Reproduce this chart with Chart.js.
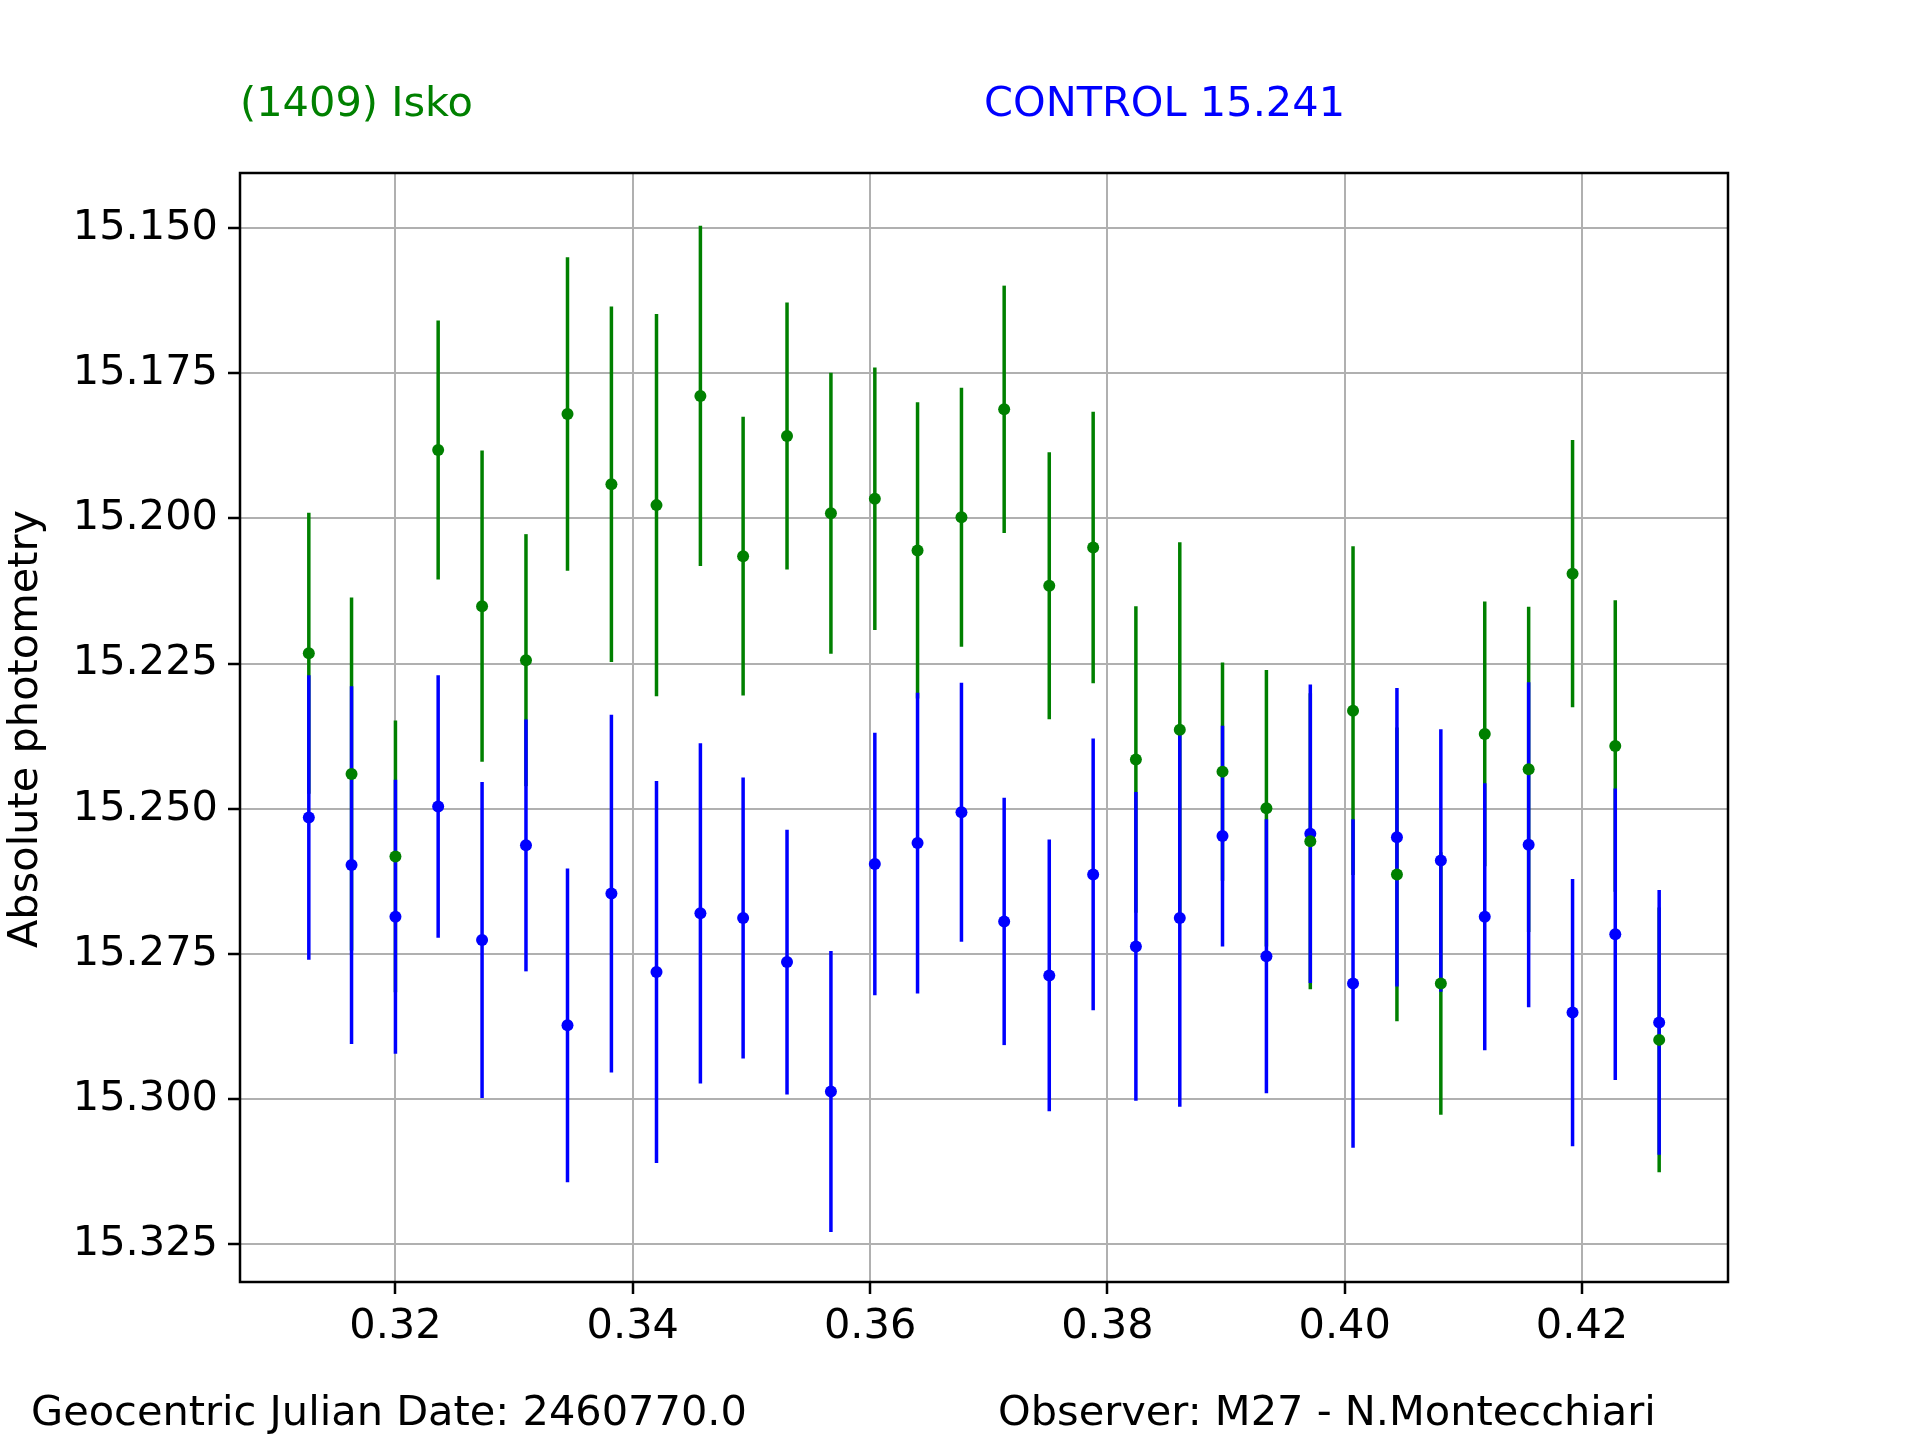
<!DOCTYPE html>
<html>
<head>
<meta charset="utf-8">
<script src="https://cdn.jsdelivr.net/npm/chart.js@4.4.1/dist/chart.umd.min.js"></script>
<style>
  body { margin: 0; background: #fff; }
  #wrap { width: 1920px; height: 1440px; }
</style>
</head>
<body>
<div id="wrap"><canvas id="c" width="1920" height="1440"></canvas></div>
<script>
// --- data ---
const jd = [0.3127, 0.3163, 0.3200, 0.3236, 0.3273, 0.3310, 0.3345, 0.3382, 0.3420, 0.3457,
            0.3493, 0.3530, 0.3567, 0.3604, 0.3640, 0.3677, 0.3713, 0.3751, 0.3788, 0.3824,
            0.3861, 0.3897, 0.3934, 0.3971, 0.4007, 0.4044, 0.4081, 0.4118, 0.4155, 0.4192,
            0.4228, 0.4265];
const iskoMag = [15.2232, 15.2440, 15.2582, 15.1882, 15.2151, 15.2244, 15.1820, 15.1941, 15.1977, 15.1789,
                 15.2065, 15.1858, 15.1991, 15.1966, 15.2055, 15.1998, 15.1812, 15.2116, 15.2050, 15.2415,
                 15.2364, 15.2436, 15.2499, 15.2556, 15.2331, 15.2613, 15.2801, 15.2371, 15.2432, 15.2095,
                 15.2392, 15.2898];
const iskoErr = [0.0242, 0.0304, 0.0234, 0.0223, 0.0268, 0.0217, 0.0270, 0.0306, 0.0329, 0.0293,
                 0.0240, 0.0230, 0.0242, 0.0226, 0.0255, 0.0223, 0.0213, 0.0230, 0.0234, 0.0264,
                 0.0323, 0.0188, 0.0238, 0.0255, 0.0283, 0.0253, 0.0226, 0.0228, 0.0280, 0.0230,
                 0.0251, 0.0228];
const ctrlMag = [15.2515, 15.2597, 15.2686, 15.2496, 15.2726, 15.2563, 15.2873, 15.2646, 15.2781, 15.2680,
                 15.2688, 15.2764, 15.2987, 15.2595, 15.2559, 15.2506, 15.2694, 15.2787, 15.2613, 15.2737,
                 15.2688, 15.2547, 15.2754, 15.2543, 15.2801, 15.2549, 15.2589, 15.2686, 15.2562, 15.2851,
                 15.2716, 15.2868];
const ctrlErr = [0.0245, 0.0308, 0.0236, 0.0226, 0.0272, 0.0217, 0.0270, 0.0308, 0.0329, 0.0293,
                 0.0242, 0.0228, 0.0242, 0.0226, 0.0259, 0.0223, 0.0213, 0.0234, 0.0234, 0.0266,
                 0.0325, 0.0190, 0.0236, 0.0257, 0.0283, 0.0257, 0.0226, 0.0230, 0.0280, 0.0230,
                 0.0251, 0.0228];
const xTicks = [0.32, 0.34, 0.36, 0.38, 0.40, 0.42];
const yTicks = [15.150, 15.175, 15.200, 15.225, 15.250, 15.275, 15.300, 15.325];

const GREEN = '#008000', BLUE = '#0000ff';
const FONT = '"DejaVu Sans", sans-serif';

const pts = (ys) => jd.map((x, i) => ({ x: x, y: ys[i] }));

// error bars drawn under the markers
const errorBars = {
  id: 'errorBars',
  beforeDatasetsDraw(chart) {
    const { ctx, scales: { x, y } } = chart;
    ctx.save();
    ctx.lineWidth = 3.5;
    [[iskoMag, iskoErr, GREEN], [ctrlMag, ctrlErr, BLUE]].forEach(([m, e, col]) => {
      ctx.strokeStyle = col;
      jd.forEach((jx, i) => {
        const px = x.getPixelForValue(jx);
        ctx.beginPath();
        ctx.moveTo(px, y.getPixelForValue(m[i] - e[i]));
        ctx.lineTo(px, y.getPixelForValue(m[i] + e[i]));
        ctx.stroke();
      });
    });
    ctx.restore();
  },
  afterDraw(chart) {
    const { ctx, chartArea: a } = chart;
    ctx.save();
    ctx.strokeStyle = '#000';
    ctx.lineWidth = 2.5;
    ctx.strokeRect(a.left, a.top, a.right - a.left, a.bottom - a.top);
    ctx.font = '41.5px ' + FONT;
    ctx.textBaseline = 'middle';
    ctx.fillStyle = GREEN;
    ctx.fillText('(1409) Isko', 240, 105);
    ctx.fillStyle = BLUE;
    ctx.fillText('CONTROL 15.241', 984, 105);
    ctx.fillStyle = '#000';
    ctx.fillText('Geocentric Julian Date: 2460770.0', 31, 1414);
    ctx.fillText('Observer: M27 - N.Montecchiari', 998, 1414);
    ctx.translate(26, 729);
    ctx.rotate(-Math.PI / 2);
    ctx.textAlign = 'center';
    ctx.fillText('Absolute photometry', 0, 0);
    ctx.restore();
  }
};

new Chart(document.getElementById('c'), {
  type: 'scatter',
  data: {
    datasets: [
      { label: '(1409) Isko', data: pts(iskoMag), backgroundColor: GREEN, borderColor: GREEN, pointRadius: 6, borderWidth: 0 },
      { label: 'CONTROL', data: pts(ctrlMag), backgroundColor: BLUE, borderColor: BLUE, pointRadius: 6, borderWidth: 0 }
    ]
  },
  options: {
    responsive: false,
    animation: false,
    devicePixelRatio: 1,
    layout: { padding: { left: 0, top: 173, right: 192, bottom: 0 } },
    plugins: { legend: { display: false }, tooltip: { enabled: false } },
    scales: {
      x: {
        type: 'linear', min: 0.3069, max: 0.4323,
        afterBuildTicks: (s) => { s.ticks = xTicks.map(v => ({ value: v })); },
        afterFit: (s) => { s.height = 158; },
        grid: { color: '#b0b0b0', lineWidth: 2, tickLength: 12, tickColor: '#000', tickWidth: 2.5 },
        border: { display: false },
        ticks: { color: '#000', font: { size: 41.5, family: FONT }, padding: 8, maxRotation: 0,
                 callback: (v) => v.toFixed(2) }
      },
      y: {
        type: 'linear', reverse: true, min: 15.1405, max: 15.3315,
        afterBuildTicks: (s) => { s.ticks = yTicks.map(v => ({ value: v })); },
        afterFit: (s) => { s.width = 240; },
        grid: { color: '#b0b0b0', lineWidth: 2, tickLength: 12, tickColor: '#000', tickWidth: 2.5 },
        border: { display: false },
        ticks: { color: '#000', font: { size: 41.5, family: FONT }, padding: 10,
                 callback: (v) => v.toFixed(3) }
      }
    }
  },
  plugins: [errorBars]
});
</script>
</body>
</html>
